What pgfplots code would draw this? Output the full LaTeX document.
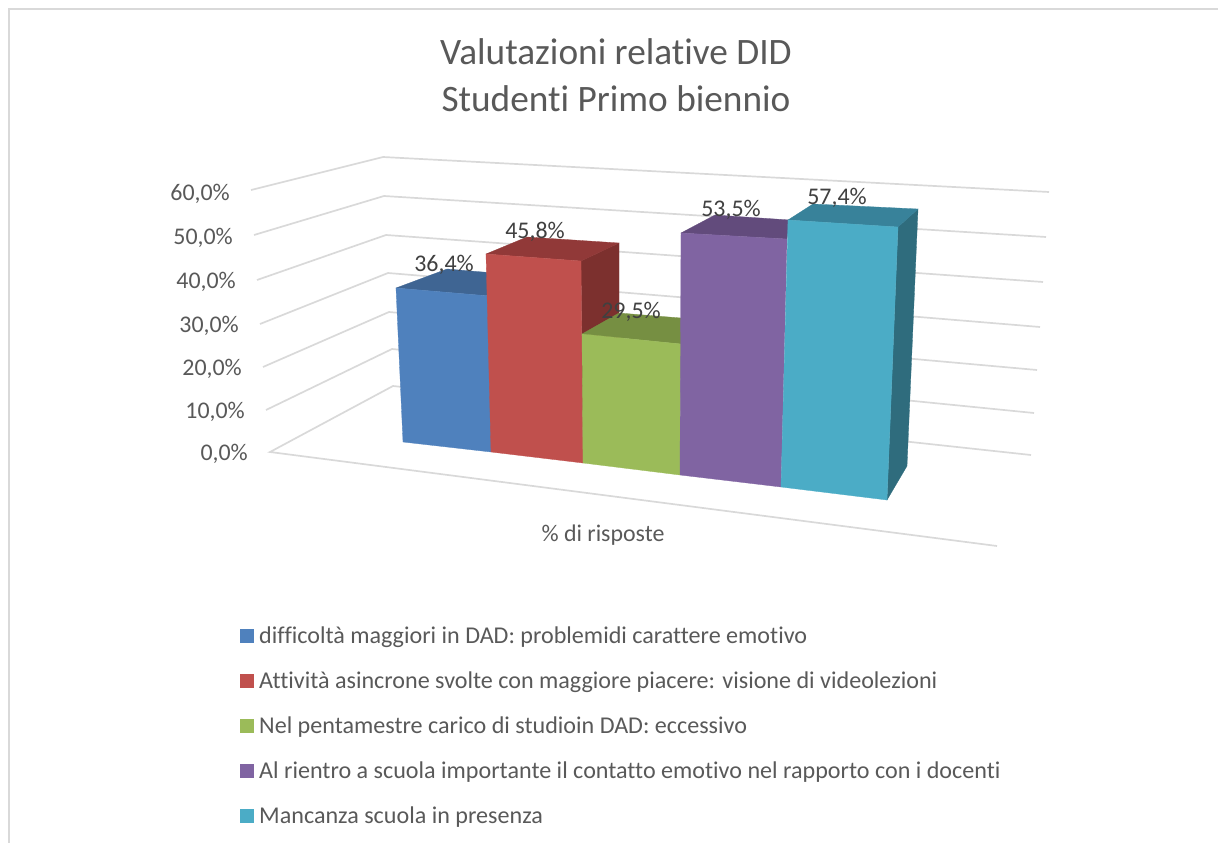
\documentclass[border=0pt]{standalone}
\usepackage{pgfplots}
\pgfplotsset{compat=1.18}
\usepackage{fontspec}
\setmainfont{Carlito}[Ligatures=NoCommon]
\definecolor{gridc}{HTML}{D9D9D9}
\definecolor{framec}{HTML}{D9D9D9}
\definecolor{txt}{HTML}{595959}
\definecolor{lab}{HTML}{404040}
\definecolor{bluef}{HTML}{4F81BD}\definecolor{bluet}{HTML}{3F6593}
\definecolor{redf}{HTML}{C0504D}\definecolor{redt}{HTML}{913938}\definecolor{reds}{HTML}{7C302E}
\definecolor{greenf}{HTML}{9BBB59}\definecolor{greent}{HTML}{768F42}
\definecolor{purplef}{HTML}{8064A2}\definecolor{purplet}{HTML}{624B7C}
\definecolor{cyanf}{HTML}{4BACC6}\definecolor{cyant}{HTML}{38829A}\definecolor{cyans}{HTML}{2F6C7D}
\newcommand{\ftick}{\fontsize{23.9}{28}\selectfont}
\newcommand{\flab}{\fontsize{23.9}{28}\selectfont}
\newcommand{\fleg}{\fontsize{24.1}{28}\selectfont}
\newcommand{\ftitle}{\fontsize{37.3}{45}\selectfont}
\begin{document}
\begin{tikzpicture}
\begin{axis}[
  hide axis,
  scale only axis,
  width=1218pt, height=843pt,
  xmin=0, xmax=1218, ymin=0, ymax=843,
  y dir=reverse,
  every axis plot/.append style={mark=none, forget plot},
]
% keep the whole canvas in the bounding box
\path (axis cs:0,0) rectangle (axis cs:1218,843);
% chart frame
\addplot[framec, line width=1.8pt] coordinates {(9,843) (9,9) (1218,9)};
% wall and floor gridlines
\addplot[gridc, line width=1.7pt] coordinates {(251,190) (383,157) (1049,192)};
\addplot[gridc, line width=1.7pt] coordinates {(254,235) (384,196) (1046,237)};
\addplot[gridc, line width=1.7pt] coordinates {(257,280) (386,235) (1043,282)};
\addplot[gridc, line width=1.7pt] coordinates {(260,324) (388,273) (1040,327)};
\addplot[gridc, line width=1.7pt] coordinates {(263,367) (389,312) (1037,370)};
\addplot[gridc, line width=1.7pt] coordinates {(266,410) (392,349) (1034,413)};
\addplot[gridc, line width=1.7pt] coordinates {(997,546) (270,452) (393,386) (1031,455)};
% blue bar 36.4
\addplot[fill=bluet, draw=bluet, line width=0.3pt] coordinates {(396,288) (447,269) (530,276) (490,296)} --cycle;
\addplot[fill=bluef, draw=bluef, line width=0.3pt] coordinates {(396,288) (490,296) (491,452) (403,442)} --cycle;
% red bar 45.8
\addplot[fill=reds, draw=reds, line width=0.3pt] coordinates {(581,261) (619,243) (619,425) (583,463)} --cycle;
\addplot[fill=redt, draw=redt, line width=0.3pt] coordinates {(486,254) (527,237) (619,243) (581,261)} --cycle;
\addplot[fill=redf, draw=redf, line width=0.3pt] coordinates {(486,254) (581,261) (583,463) (491,452)} --cycle;
% green bar 29.5
\addplot[fill=greent, draw=greent, line width=0.3pt] coordinates {(582,334) (619,313) (681,318) (681,344)} --cycle;
\addplot[fill=greenf, draw=greenf, line width=0.3pt] coordinates {(582,334) (681,344) (680,475) (583,463)} --cycle;
% purple bar 53.5
\addplot[fill=purplet, draw=purplet, line width=0.3pt] coordinates {(681,233) (715,215) (790,220) (787,239)} --cycle;
\addplot[fill=purplef, draw=purplef, line width=0.3pt] coordinates {(681,233) (787,239) (781,487) (680,475)} --cycle;
% cyan bar 57.4
\addplot[fill=cyans, draw=cyans, line width=0.3pt] coordinates {(898,227) (918,209) (907,466) (887,500)} --cycle;
\addplot[fill=cyant, draw=cyant, line width=0.3pt] coordinates {(788,220) (813,204) (918,209) (898,227)} --cycle;
\addplot[fill=cyanf, draw=cyanf, line width=0.3pt] coordinates {(788,220) (898,227) (887,500) (781,487)} --cycle;
% legend swatches
\addplot[fill=bluef, draw=none] coordinates {(240,629) (254,629) (254,643) (240,643)} --cycle;
\addplot[fill=redf, draw=none] coordinates {(240,674) (254,674) (254,688) (240,688)} --cycle;
\addplot[fill=greenf, draw=none] coordinates {(240,719) (254,719) (254,733) (240,733)} --cycle;
\addplot[fill=purplef, draw=none] coordinates {(240,764) (254,764) (254,778) (240,778)} --cycle;
\addplot[fill=cyanf, draw=none] coordinates {(240,809) (254,809) (254,823) (240,823)} --cycle;
% tick labels
\node[anchor=base east, inner sep=0pt, txt, font=\ftick] at (axis cs:230,200) {60,0\%};
\node[anchor=base east, inner sep=0pt, txt, font=\ftick] at (axis cs:233,244) {50,0\%};
\node[anchor=base east, inner sep=0pt, txt, font=\ftick] at (axis cs:236,288) {40,0\%};
\node[anchor=base east, inner sep=0pt, txt, font=\ftick] at (axis cs:239,332) {30,0\%};
\node[anchor=base east, inner sep=0pt, txt, font=\ftick] at (axis cs:242,375) {20,0\%};
\node[anchor=base east, inner sep=0pt, txt, font=\ftick] at (axis cs:245,418) {10,0\%};
\node[anchor=base east, inner sep=0pt, txt, font=\ftick] at (axis cs:248,460) {0,0\%};
% data labels
\node[anchor=base, inner sep=0pt, lab, font=\flab] at (axis cs:444,271) {36,4\%};
\node[anchor=base, inner sep=0pt, lab, font=\flab] at (axis cs:535,238) {45,8\%};
\node[anchor=base, inner sep=0pt, lab, font=\flab] at (axis cs:631,318) {29,5\%};
\node[anchor=base, inner sep=0pt, lab, font=\flab] at (axis cs:731,216) {53,5\%};
\node[anchor=base, inner sep=0pt, lab, font=\flab] at (axis cs:837,204) {57,4\%};
% category
\node[anchor=base, inner sep=0pt, txt, font=\ftick] at (axis cs:603,541) {\% di risposte};
% title
\node[anchor=base, inner sep=0pt, txt, font=\ftitle] at (axis cs:616,65) {Valutazioni relative DID};
\node[anchor=base, inner sep=0pt, txt, font=\ftitle] at (axis cs:616,111) {Studenti Primo biennio};
% legend text
\node[anchor=base west, inner sep=0pt, txt, font=\fleg] at (axis cs:259,643) {difficoltà maggiori in DAD: problemidi carattere emotivo};
\node[anchor=base west, inner sep=0pt, txt, font=\fleg] at (axis cs:259,688) {Attività asincrone svolte con maggiore piacere: visione di videolezioni};
\node[anchor=base west, inner sep=0pt, txt, font=\fleg] at (axis cs:259,733) {Nel pentamestre carico di studioin DAD: eccessivo};
\node[anchor=base west, inner sep=0pt, txt, font=\fleg] at (axis cs:259,778) {Al rientro a scuola importante il contatto emotivo nel rapporto con i docenti};
\node[anchor=base west, inner sep=0pt, txt, font=\fleg] at (axis cs:259,823) {Mancanza scuola in presenza};
\end{axis}
\end{tikzpicture}
\end{document}
